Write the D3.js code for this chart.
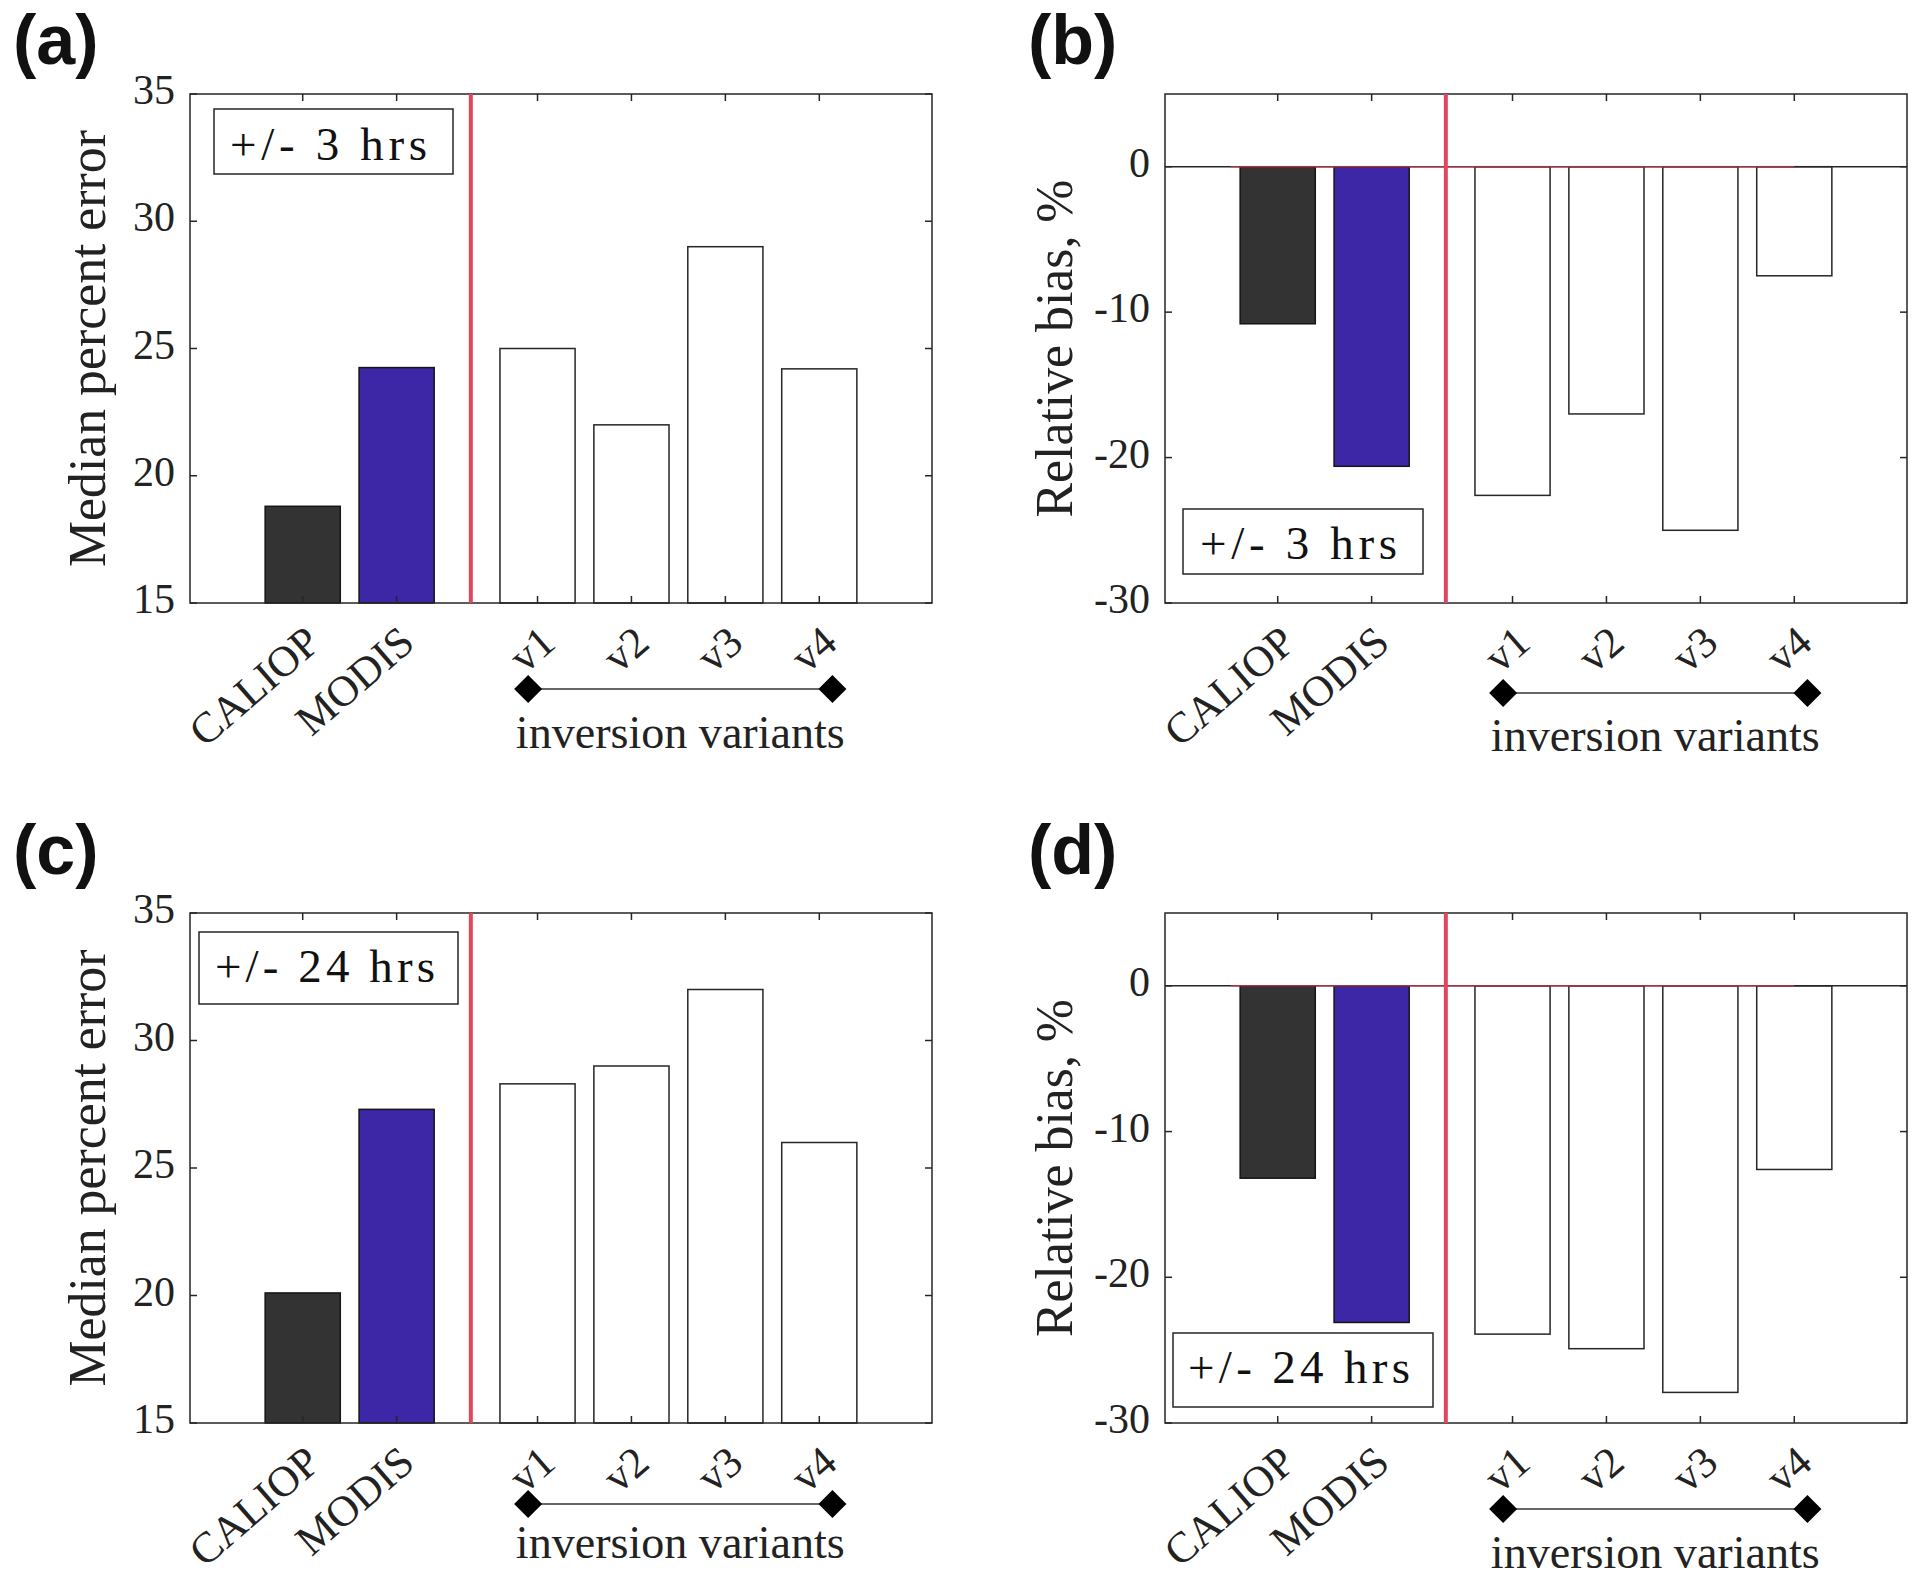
<!DOCTYPE html>
<html><head><meta charset="utf-8">
<script src="https://cdn.jsdelivr.net/npm/d3@7"></script>
<style>html,body{margin:0;padding:0;background:#fff;} svg{display:block}</style>
</head><body>
<svg id="chart" width="1920" height="1578"></svg>
<script>
// ---- data ----
const categories = ["CALIOP", "MODIS", "v1", "v2", "v3", "v4"];
const catPositions = [1, 2, 3.5, 4.5, 5.5, 6.5];
const err3h  = [18.8, 24.25, 25.0, 22.0, 29.0, 24.2];
const bias3h = [-10.8, -20.6, -22.6, -17.0, -25.0, -7.5];
const err24h = [20.1, 27.3, 28.3, 29.0, 32.0, 26.0];
const bias24h = [-13.2, -23.1, -23.9, -24.9, -27.9, -12.6];
const errTicks = [15, 20, 25, 30, 35];
const biasTicks = [-30, -20, -10, 0];
const errDomain = [15, 35];
const biasDomain = [-30, 5];
const xDomain = [-0.2, 7.7];
const separatorX = 2.79;
const variantSpan = [3.4, 6.64];
const barFills = ["#333333", "#3d27a6", "#ffffff", "#ffffff", "#ffffff", "#ffffff"];

const panels = [
  {label:"(a)", lx:13, ly:64, x0:190, x1:932, y0:94, y1:603, values:err3h, domain:errDomain, ticks:errTicks, base:15,
   ylab:"Median percent error", ylabX:105, legend:"+/- 3 hrs",
   box:[214,109,453,174], tx:230, ty:160, tlen:197, dDy:86, vDy:145},
  {label:"(b)", lx:1028, ly:64, x0:1165, x1:1907, y0:94, y1:603, values:bias3h, domain:biasDomain, ticks:biasTicks, base:0,
   ylab:"Relative bias, %", ylabX:1072, legend:"+/- 3 hrs",
   box:[1183,509,1423,574], tx:1200, ty:559, tlen:197, dDy:90, vDy:148},
  {label:"(c)", lx:13, ly:874, x0:190, x1:932, y0:913, y1:1423, values:err24h, domain:errDomain, ticks:errTicks, base:15,
   ylab:"Median percent error", ylabX:105, legend:"+/- 24 hrs",
   box:[199,932,458,1004], tx:215, ty:982, tlen:220, dDy:81, vDy:135},
  {label:"(d)", lx:1028, ly:874, x0:1165, x1:1907, y0:913, y1:1423, values:bias24h, domain:biasDomain, ticks:biasTicks, base:0,
   ylab:"Relative bias, %", ylabX:1072, legend:"+/- 24 hrs",
   box:[1173,1333,1433,1407], tx:1188, ty:1383, tlen:222, dDy:86, vDy:145}
];

const svg = d3.select("#chart");
const SERIF = "Liberation Serif, Tinos, Nimbus Roman, Times New Roman, DejaVu Serif, serif";
const AX = "#262626";

function natWidth(str) {
  const t = svg.append("text").attr("font-family", SERIF).attr("font-size", 100).attr("x", -5000).attr("y", -5000).text(str);
  const w = t.node().getComputedTextLength();
  t.remove();
  return w;
}
const tickFS = Math.min(46, 100 * 42 / natWidth("35"));
const catFS = Math.min(48, 100 * 156 / natWidth("CALIOP"));
const varFS = Math.min(50, 100 * 329 / natWidth("inversion variants"));
const ylabFS = Math.min(56, 100 * 437 / natWidth("Median percent error"));
const legFS = 47;

panels.forEach(p => {
  const g = svg.append("g");
  const xs = d3.scaleLinear().domain(xDomain).range([p.x0, p.x1]);
  const ys = d3.scaleLinear().domain(p.domain).range([p.y1, p.y0]);
  const bw = xs(0.8) - xs(0);

  // bars
  g.selectAll("rect.bar").data(p.values).enter().append("rect")
    .attr("class", "bar")
    .attr("x", (d, i) => xs(catPositions[i]) - bw / 2)
    .attr("width", bw)
    .attr("y", d => Math.min(ys(d), ys(p.base)))
    .attr("height", d => Math.abs(ys(d) - ys(p.base)))
    .attr("fill", (d, i) => barFills[i])
    .attr("stroke", (d, i) => i < 2 ? "#151515" : AX)
    .attr("stroke-width", 1.5);

  // zero line for bias panels
  if (p.domain[0] < 0) {
    g.append("line").attr("x1", p.x0).attr("x2", p.x1).attr("y1", ys(0)).attr("y2", ys(0))
      .attr("stroke", AX).attr("stroke-width", 1.5);
    g.append("line").attr("x1", xs(0.5)).attr("x2", xs(6.5)).attr("y1", ys(0)).attr("y2", ys(0))
      .attr("stroke", "#c0394d").attr("stroke-width", 1.5).attr("opacity", 0.8);
  }

  // frame
  g.append("rect").attr("x", p.x0).attr("y", p.y0).attr("width", p.x1 - p.x0).attr("height", p.y1 - p.y0)
    .attr("fill", "none").attr("stroke", AX).attr("stroke-width", 1.5);

  // y ticks (both sides, inward)
  p.ticks.forEach(t => {
    g.append("line").attr("x1", p.x0).attr("x2", p.x0 + 7).attr("y1", ys(t)).attr("y2", ys(t)).attr("stroke", AX).attr("stroke-width", 1.5);
    g.append("line").attr("x1", p.x1).attr("x2", p.x1 - 7).attr("y1", ys(t)).attr("y2", ys(t)).attr("stroke", AX).attr("stroke-width", 1.5);
    g.append("text").attr("x", p.x0 - 15).attr("y", ys(t) + tickFS * 0.24).attr("text-anchor", "end")
      .attr("font-family", SERIF).attr("font-size", tickFS).attr("fill", "#222").text(t);
  });

  // x ticks (top & bottom, inward) and rotated category labels
  catPositions.forEach((c, i) => {
    g.append("line").attr("x1", xs(c)).attr("x2", xs(c)).attr("y1", p.y1).attr("y2", p.y1 - 7).attr("stroke", AX).attr("stroke-width", 1.5);
    g.append("line").attr("x1", xs(c)).attr("x2", xs(c)).attr("y1", p.y0).attr("y2", p.y0 + 7).attr("stroke", AX).attr("stroke-width", 1.5);
    g.append("text")
      .attr("transform", `translate(${xs(c) + 20},${p.y1 + 43}) rotate(-41)`)
      .attr("text-anchor", "end").attr("font-family", SERIF).attr("font-size", catFS).attr("fill", "#222")
      .text(categories[i]);
  });

  // separator
  g.append("line").attr("x1", xs(separatorX)).attr("x2", xs(separatorX)).attr("y1", p.y0).attr("y2", p.y1)
    .attr("stroke", "#e0475f").attr("stroke-width", 4);

  // legend box
  g.append("rect").attr("x", p.box[0]).attr("y", p.box[1]).attr("width", p.box[2] - p.box[0]).attr("height", p.box[3] - p.box[1])
    .attr("fill", "#fff").attr("stroke", AX).attr("stroke-width", 1.5);
  g.append("text").attr("x", p.tx).attr("y", p.ty).attr("font-family", SERIF).attr("font-size", legFS).attr("fill", "#111")
    .attr("textLength", p.tlen).attr("lengthAdjust", "spacing").text(p.legend);

  // y label
  const yc = (p.y0 + p.y1) / 2;
  g.append("text").attr("transform", `translate(${p.ylabX},${yc}) rotate(-90)`).attr("text-anchor", "middle")
    .attr("font-family", SERIF).attr("font-size", ylabFS).attr("fill", "#222")
    .text(p.ylab);

  // inversion variants bracket
  const dy = p.y1 + p.dDy;
  g.append("line").attr("x1", xs(variantSpan[0])).attr("x2", xs(variantSpan[1])).attr("y1", dy).attr("y2", dy)
    .attr("stroke", "#333").attr("stroke-width", 1.5);
  variantSpan.forEach(v => {
    g.append("path").attr("d", d3.symbol().type(d3.symbolSquare).size(392)())
      .attr("transform", `translate(${xs(v)},${dy}) rotate(45)`).attr("fill", "#000");
  });
  g.append("text").attr("x", xs((variantSpan[0] + variantSpan[1]) / 2)).attr("y", p.y1 + p.vDy)
    .attr("text-anchor", "middle").attr("font-family", SERIF).attr("font-size", varFS).attr("fill", "#222")
    .text("inversion variants");

  // panel letter
  svg.append("text").attr("x", p.lx).attr("y", p.ly).attr("font-family", "Liberation Sans, Arial, sans-serif")
    .attr("font-weight", "bold").attr("font-size", 70).attr("fill", "#111").text(p.label);
});
</script>
</body></html>
